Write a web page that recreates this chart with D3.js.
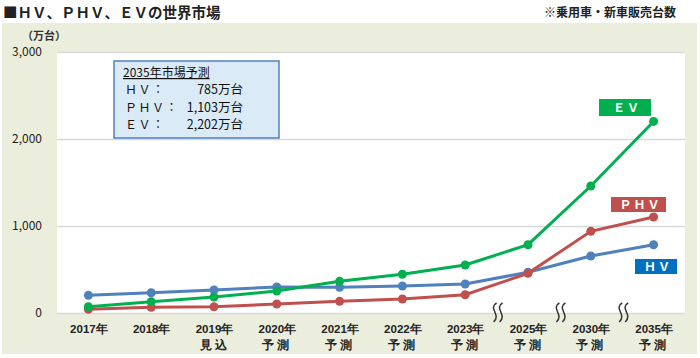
<!DOCTYPE html>
<html><head><meta charset="utf-8">
<script src="https://cdn.jsdelivr.net/npm/d3@7"></script>
<style>
html,body{margin:0;padding:0;background:#fff;}
svg{display:block;font-family:"Noto Sans CJK JP","Noto Sans",sans-serif;}
</style></head>
<body>
<svg id="c" width="700" height="358"></svg>
<script>
const categories = ["2017年","2018年","2019年","2020年","2021年","2022年","2023年","2025年","2030年","2035年"];
const subLabels = ["","","見込","予測","予測","予測","予測","予測","予測","予測"];
const hv  = [203,233,264,299,296,310,333,468,655,785];
const phv = [42,65,72,103,134,161,210,456,939,1103];
const ev  = [72,130,184,253,364,445,552,785,1460,2202];
const yTicks = [0,1000,2000,3000];
const breakAfter = ["2023年","2025年","2030年"];
const seriesNames = ["ＨＶ","ＰＨＶ","ＥＶ"];
const noteTitle = "2035年市場予測";
const noteRows = [["ＨＶ：","785万台"],["ＰＨＶ：","1,103万台"],["ＥＶ：","2,202万台"]];

const svg = d3.select("#c");
const L=57, R=685, T=52, B=313;

// panel background
svg.append("rect").attr("x",2).attr("y",23).attr("width",695).attr("height",331).attr("fill","#EBEEDC");
svg.append("rect").attr("x",L).attr("y",T).attr("width",R-L).attr("height",B-T).attr("fill","#fff");

// titles
svg.append("text").attr("x",3).attr("y",18).attr("font-size",14.5).attr("font-weight","bold").attr("fill","#222")
  .text("■ＨＶ、ＰＨＶ、ＥＶの世界市場");
svg.append("text").attr("x",676).attr("y",17).attr("text-anchor","end").attr("font-size",12).attr("font-weight","bold").attr("fill","#222")
  .text("※乗用車・新車販売台数");
svg.append("text").attr("x",22).attr("y",40).attr("font-size",11).attr("font-weight","bold").attr("fill","#333").text("（万台）");

const x = d3.scalePoint().domain(categories).range([L,R]).padding(0.5);
const y = d3.scaleLinear().domain([0,3000]).range([B,T]);

// gridlines
const grid = svg.append("g").attr("transform",`translate(${L},0)`)
  .call(d3.axisLeft(y).tickValues(yTicks).tickSize(-(R-L)).tickFormat(""));
grid.select(".domain").remove();
grid.selectAll("line").attr("stroke","#D9D9D9").attr("stroke-width",1.5);

// y axis labels
const ya = svg.append("g").attr("transform",`translate(42,0)`)
  .call(d3.axisLeft(y).tickValues(yTicks).tickSize(0).tickPadding(0).tickFormat(d3.format(",")));
ya.select(".domain").remove();
ya.selectAll("text").attr("font-size",12).attr("fill","#222").attr("font-family","'Noto Sans CJK JP',sans-serif");

// x axis labels
const xa = svg.append("g").attr("transform",`translate(0,${B})`)
  .call(d3.axisBottom(x).tickSize(0).tickPadding(0));
xa.select(".domain").remove();
xa.selectAll("text").each(function(d,i){
  const t = d3.select(this).attr("y",null).attr("dy",null).attr("font-size",11.5).attr("font-weight","bold").attr("fill","#222").text(null);
  t.append("tspan").attr("x",0).attr("y",20).text(d);
  const s = subLabels[categories.indexOf(d)];
  if(s) t.append("tspan").attr("x",0).attr("y",36).attr("letter-spacing","3").text(s);
});

// break marks
breakAfter.forEach(c=>{
  const i = categories.indexOf(c);
  const mx = (x(categories[i])+x(categories[i+1]))/2 + 1;
  [-3,3].forEach(off=>{
    svg.append("path").attr("d",`M${mx+off+2},303 C${mx+off-7},308 ${mx+off+7},315 ${mx+off-1},322`)
      .attr("fill","none").attr("stroke","#333").attr("stroke-width",1.5);
  });
});

// lines
const data = [
  {name:seriesNames[0], values:hv, color:"#4F81BD"},
  {name:seriesNames[1], values:phv, color:"#C0504D"},
  {name:seriesNames[2], values:ev, color:"#00B050"}
];
const line = d3.line().x((d,i)=>x(categories[i])).y(d=>y(d));
data.forEach(s=>{
  svg.append("path").attr("d",line(s.values)).attr("fill","none").attr("stroke",s.color).attr("stroke-width",3);
  svg.append("g").selectAll("circle").data(s.values).join("circle")
    .attr("cx",(d,i)=>x(categories[i])).attr("cy",d=>y(d)).attr("r",4.5).attr("fill",s.color);
});

// series label boxes
const boxes = [
  {name:seriesNames[2], color:"#00B050", x:599, y:99, w:52, h:17},
  {name:seriesNames[1], color:"#C0504D", x:611, y:197, w:55, h:15},
  {name:seriesNames[0], color:"#0070C0", x:635, y:259, w:42, h:15}
];
boxes.forEach(b=>{
  svg.append("rect").attr("x",b.x).attr("y",b.y).attr("width",b.w).attr("height",b.h).attr("fill",b.color);
  svg.append("text").attr("x",b.x+b.w/2+2).attr("y",b.y+b.h/2+4.5).attr("text-anchor","middle")
    .attr("font-size",12).attr("font-weight","bold").attr("fill","#fff").attr("letter-spacing","2").text(b.name);
});

// note box
svg.append("rect").attr("x",114).attr("y",61).attr("width",165).attr("height",77)
  .attr("fill","#DAEAF6").attr("stroke","#4F81BD").attr("stroke-width",1.5);
svg.append("text").attr("x",123).attr("y",77).attr("font-size",12).attr("fill","#111")
  .attr("text-decoration","underline").text(noteTitle);
noteRows.forEach((r,i)=>{
  const yy = 94 + i*17.5;
  svg.append("text").attr("x",125).attr("y",yy).attr("font-size",12).attr("fill","#111").attr("letter-spacing","1.5").text(r[0]);
  svg.append("text").attr("x",243).attr("y",yy).attr("text-anchor","end").attr("font-size",12.5).attr("fill","#111").text(r[1]);
});
</script>
</body></html>
